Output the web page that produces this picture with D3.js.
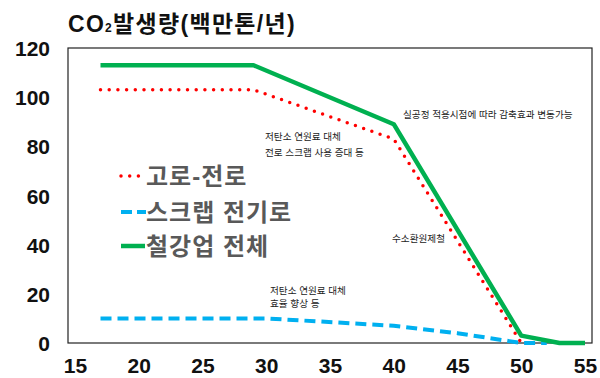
<!DOCTYPE html>
<html>
<head>
<meta charset="utf-8">
<script src="https://d3js.org/d3.v7.min.js"></script>
<style>
  body { margin: 0; background: #fff; }
  svg text { font-family: "Liberation Sans", Arial, "Noto Sans CJK KR", sans-serif; }
</style>
</head>
<body>
<div id="chart"><svg></svg></div>
<script>
// data
var xTicks = [15, 20, 25, 30, 35, 40, 45, 50, 55];
var yTicks = [0, 20, 40, 60, 80, 100, 120];

var blastYears = [17, 29, 40, 50];
var blastValues = [103, 103, 83, 0];

var eafYears = [17, 30, 40, 45, 50, 52];
var eafValues = [10, 10, 7, 4, 0, 0];

var totalYears = [17, 29, 40, 50, 53, 55];
var totalValues = [113, 113, 89, 3, 0, 0];

var seriesNames = ["고로-전로", "스크랩 전기로", "철강업 전체"];

var width = 600, height = 378;
var svg = d3.select("#chart svg").attr("width", width).attr("height", height);

var x = d3.scaleLinear().domain([15, 55]).range([75, 585]);
var y = d3.scaleLinear().domain([0, 120]).range([343, 48]);

// plot frame
svg.append("rect")
    .attr("x", 68).attr("y", y(120))
    .attr("width", 592 - 68).attr("height", y(0) - y(120))
    .attr("fill", "none").attr("stroke", "#222").attr("stroke-width", 1.2);

// title
var title = svg.append("text")
    .attr("x", 68).attr("y", 32)
    .attr("font-size", 23).attr("font-weight", "bold").attr("fill", "#111")
    .attr("letter-spacing", 1.3);
title.append("tspan").text("CO");
title.append("tspan").attr("font-size", 12).text("2");
title.append("tspan").text("발생량(백만톤/년)");

// axes (labels only, Excel style)
var yAxis = d3.axisLeft(y).tickValues(yTicks).tickSize(0).tickPadding(0);
var yg = svg.append("g").attr("transform", "translate(50,0)").call(yAxis);
yg.select(".domain").remove();
yg.selectAll("text").attr("font-size", 21).attr("font-weight", "bold")
    .attr("fill", "#111").attr("dy", "0.36em");

var xAxis = d3.axisBottom(x).tickValues(xTicks).tickSize(0).tickPadding(0);
var xg = svg.append("g").attr("transform", "translate(0,358)").call(xAxis);
xg.select(".domain").remove();
xg.selectAll("text").attr("font-size", 21).attr("font-weight", "bold")
    .attr("fill", "#111").attr("dy", "0.7em");

var line = d3.line().x(function(d) { return x(d[0]); }).y(function(d) { return y(d[1]); });

function pairs(xs, vs) { return xs.map(function(v, i) { return [v, vs[i]]; }); }

// blue dashed - scrap EAF
svg.append("path")
    .datum(pairs(eafYears, eafValues))
    .attr("d", line)
    .attr("fill", "none").attr("stroke", "#00b0f0").attr("stroke-width", 4)
    .attr("stroke-dasharray", "11 6");

// red dotted - BF-BOF
svg.append("path")
    .datum(pairs(blastYears, blastValues))
    .attr("d", line)
    .attr("fill", "none").attr("stroke", "#ff0000").attr("stroke-width", 3.5)
    .attr("stroke-linecap", "round").attr("stroke-dasharray", "0 8.7");

// green solid - total
svg.append("path")
    .datum(pairs(totalYears, totalValues))
    .attr("d", line)
    .attr("fill", "none").attr("stroke", "#00b050").attr("stroke-width", 4.5)
    .attr("stroke-linejoin", "round");

// legend
var legendY = [176, 212, 246];
var lg = svg.append("g");
lg.append("line").attr("x1", 121).attr("x2", 143).attr("y1", legendY[0]).attr("y2", legendY[0])
    .attr("stroke", "#ff0000").attr("stroke-width", 3.5).attr("stroke-linecap", "round")
    .attr("stroke-dasharray", "0 8.7");
lg.append("line").attr("x1", 121).attr("x2", 146).attr("y1", legendY[1]).attr("y2", legendY[1])
    .attr("stroke", "#00b0f0").attr("stroke-width", 4).attr("stroke-dasharray", "11 5");
lg.append("line").attr("x1", 121).attr("x2", 145).attr("y1", legendY[2]).attr("y2", legendY[2])
    .attr("stroke", "#00b050").attr("stroke-width", 4.5);
lg.selectAll("text.leg").data(seriesNames).enter().append("text")
    .attr("class", "leg")
    .attr("x", 146).attr("y", function(d, i) { return legendY[i]; })
    .attr("dy", "0.36em")
    .attr("font-size", 24).attr("font-weight", "bold").attr("fill", "#595959")
    .attr("letter-spacing", 1)
    .text(function(d) { return d; });

// annotations
var notes = [
  { x: 403, y: 115, t: "실공정 적용시점에 따라 감축효과 변동가능" },
  { x: 265, y: 137, t: "저탄소 연원료 대체" },
  { x: 265, y: 153, t: "전로 스크랩 사용 증대 등" },
  { x: 392, y: 239, t: "수소환원제철" },
  { x: 270, y: 291, t: "저탄소 연원료 대체" },
  { x: 270, y: 304, t: "효율 향상 등" }
];
svg.selectAll("text.note").data(notes).enter().append("text")
    .attr("class", "note")
    .attr("x", function(d) { return d.x; }).attr("y", function(d) { return d.y; })
    .attr("dy", "0.36em")
    .attr("font-size", 9.6).attr("fill", "#222")
    .text(function(d) { return d.t; });
</script>
</body>
</html>
